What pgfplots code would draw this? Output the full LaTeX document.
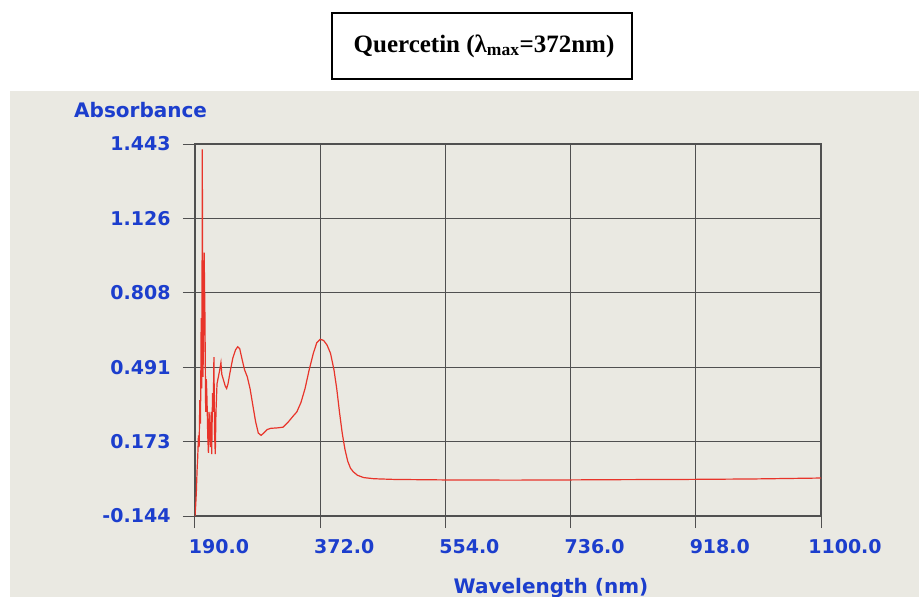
\documentclass[border=0pt]{standalone}
\usepackage{pgfplots}
\pgfplotsset{compat=1.18}
\usepackage{fontspec}
\setmainfont{DejaVu Sans}
\newfontfamily\titlefont{Liberation Serif}
\definecolor{photobg}{RGB}{234,233,226}
\definecolor{lblblue}{RGB}{28,62,205}
\definecolor{specred}{RGB}{232,52,42}
\definecolor{gridc}{RGB}{80,80,80}
\begin{document}
\begin{tikzpicture}[x=1pt,y=1pt]
\useasboundingbox (0,0) rectangle (919,-597);
\fill[white] (0,0) rectangle (919,-597);
\fill[photobg] (10,-91) rectangle (919,-597);
\draw[line width=1.8pt] (332,-13) rectangle (632,-79);
\node[font=\titlefont\bfseries\fontsize{25}{28}\selectfont] at (484,-46) {Quercetin (λ\textsubscript{max}=372nm)};
\node[font=\bfseries\fontsize{20}{24}\selectfont, text=lblblue, anchor=west, inner sep=0pt] at (74,-110) {Absorbance};
\node[font=\bfseries\fontsize{20}{24}\selectfont, text=lblblue, inner sep=0pt] at (551,-588) {Wavelength (nm)};
\begin{axis}[
  at={(195pt,-516pt)}, anchor=south west,
  scale only axis, width=626pt, height=372pt,
  xmin=190, xmax=1100, ymin=-0.144, ymax=1.443,
  xtick={190,372,554,736,918,1100},
  xticklabels={190.0,372.0,554.0,736.0,918.0,1100.0},
  ytick={-0.144,0.173,0.491,0.808,1.126,1.443},
  yticklabels={-0.144,0.173,0.491,0.808,1.126,1.443},
  xtick pos=bottom, ytick pos=left,
  tick align=outside, major tick length=12pt,
  every tick/.style={gridc, line width=1pt},
  grid=major,
  major grid style={gridc, line width=1pt},
  axis line style={gridc, line width=1.1pt},
  ticklabel style={font=\bfseries\fontsize{19}{22}\selectfont, text=lblblue},
  xticklabel style={anchor=north, xshift=24pt, yshift=-8pt},
  yticklabel style={anchor=east, xshift=-9pt},
  axis background/.style={fill=photobg},
]
\addplot[specred, line width=1.2pt] coordinates {
(190,-0.144)(191,-0.10)(192,-0.04)(193,0.05)(194,0.11)(195,0.20)(196,0.15)(197,0.35)(198,0.25)(199,0.70)(200,0.40)(200.6,1.42)(201.5,0.45)(202.5,0.60)(203.3,0.98)(204.5,0.70)(205.5,0.30)(206.5,0.44)(207.5,0.35)(208.5,0.20)(209.5,0.125)(210.5,0.30)(211.5,0.20)(212.5,0.15)(213.5,0.30)(214.3,0.12)(215.5,0.38)(216.5,0.30)(217.5,0.534)(218.5,0.20)(219.5,0.12)(220.5,0.30)(222,0.42)(224,0.45)(226,0.48)(227.7,0.51)(229,0.46)(231,0.44)(234,0.41)(236,0.40)(238,0.42)(241,0.47)(245,0.53)(249,0.565)(252,0.578)(255,0.57)(258,0.53)(262,0.48)(266,0.45)(270,0.40)(274,0.33)(278,0.26)(282,0.21)(286,0.20)(290,0.21)(295,0.225)(300,0.23)(310,0.232)(318,0.235)(325,0.255)(332,0.28)(338,0.30)(344,0.34)(350,0.40)(356,0.48)(362,0.55)(367,0.595)(372,0.61)(377,0.605)(382,0.585)(387,0.55)(392,0.48)(396,0.40)(400,0.30)(404,0.21)(408,0.14)(412,0.09)(416,0.06)(420,0.045)(426,0.03)(435,0.02)(450,0.015)(480,0.012)(550,0.010)(650,0.009)(736,0.010)(800,0.011)(900,0.012)(1000,0.014)(1100,0.018)
};
\end{axis}
\end{tikzpicture}
\end{document}
